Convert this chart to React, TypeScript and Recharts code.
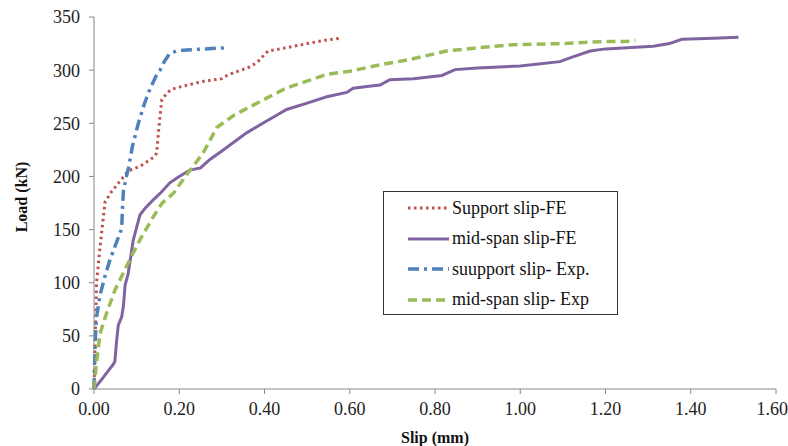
import React from 'react';
import { LineChart, Line, XAxis, YAxis, Legend } from 'recharts';

const supportFeSlip = [0, 0.003, 0.006, 0.012, 0.02, 0.026, 0.04, 0.06, 0.08, 0.11, 0.14, 0.147, 0.152, 0.159, 0.17, 0.182, 0.2, 0.25, 0.3, 0.307, 0.33, 0.36, 0.382, 0.408, 0.45, 0.5, 0.54, 0.577];
const supportFeLoad = [0, 50, 100, 125, 155, 176, 185, 195, 205, 210, 218, 222, 245, 272, 278, 282, 284, 289, 292, 294, 298, 302, 307, 318, 321, 325, 328, 330];

const midFeSlip = [0, 0.02, 0.035, 0.045, 0.049, 0.053, 0.057, 0.065, 0.069, 0.073, 0.08, 0.092, 0.1, 0.108, 0.12, 0.139, 0.155, 0.178, 0.2, 0.225, 0.25, 0.272, 0.3, 0.358, 0.4, 0.452, 0.5, 0.546, 0.593, 0.608, 0.65, 0.671, 0.694, 0.75, 0.816, 0.847, 0.9, 1.0, 1.093, 1.12, 1.164, 1.2, 1.312, 1.35, 1.379, 1.453, 1.512];
const midFeLoad = [0, 10, 18, 23, 26, 45, 60, 68, 78, 98, 108, 140, 152, 164, 170, 178, 184, 194, 200, 206, 208, 216, 224, 241, 251, 263, 269, 275, 279, 283, 285, 286, 291, 292, 295, 300.5, 302, 304, 308, 312, 318, 320, 322.5, 325, 329, 330, 331];

const supportExpSlip = [0, 0.002, 0.005, 0.014, 0.025, 0.037, 0.05, 0.065, 0.067, 0.069, 0.075, 0.081, 0.09, 0.104, 0.118, 0.131, 0.145, 0.155, 0.165, 0.178, 0.195, 0.217, 0.26, 0.311];
const supportExpLoad = [0, 35, 65, 88, 105, 121, 135, 151, 172, 186, 198, 208, 228, 250, 268, 282, 294, 300, 308, 316, 318, 319, 320, 321];

const midExpSlip = [0, 0.005, 0.014, 0.03, 0.049, 0.07, 0.088, 0.11, 0.139, 0.16, 0.186, 0.22, 0.256, 0.288, 0.33, 0.397, 0.45, 0.546, 0.6, 0.671, 0.741, 0.827, 0.9, 0.983, 1.1, 1.2, 1.25, 1.27];
const midExpLoad = [0, 22, 52, 72, 93, 110, 125, 142, 162, 175, 184, 203, 222, 246, 258, 272, 283, 296, 299, 305, 310, 318, 321, 324, 325, 327, 327, 328];

const xTicks = [0, 0.2, 0.4, 0.6, 0.8, 1.0, 1.2, 1.4, 1.6];
const yTicks = [0, 50, 100, 150, 200, 250, 300, 350];

const toPoints = (slip: number[], load: number[]) => slip.map((x, i) => ({ x, y: load[i] }));

const series = [
  { name: 'Support slip-FE', data: toPoints(supportFeSlip, supportFeLoad), color: '#C0504D', dash: '2.5 3.5', width: 3 },
  { name: 'mid-span slip-FE', data: toPoints(midFeSlip, midFeLoad), color: '#8064A2', dash: undefined, width: 3 },
  { name: 'suupport slip- Exp.', data: toPoints(supportExpSlip, supportExpLoad), color: '#4F81BD', dash: '11 5 3 5', width: 3.5 },
  { name: 'mid-span slip- Exp', data: toPoints(midExpSlip, midExpLoad), color: '#9BBB59', dash: '9 5', width: 3.5 },
];

const font = '"Liberation Serif", "DejaVu Serif", serif';

const renderLegend = () => (
  <div
    style={{
      width: 235,
      height: 124,
      border: '1px solid #333',
      background: '#fff',
      boxSizing: 'border-box',
      paddingTop: 1,
      fontFamily: font,
      fontSize: 18,
      color: '#111',
    }}
  >
    {series.map((s) => (
      <div key={s.name} style={{ display: 'flex', alignItems: 'center', height: 30.5 }}>
        <svg width={68} height={10} style={{ flex: 'none' }}>
          <line x1={24} y1={5} x2={65} y2={5} stroke={s.color} strokeWidth={s.width} strokeDasharray={s.dash} />
        </svg>
        <span>{s.name}</span>
      </div>
    ))}
  </div>
);

export default function App() {
  return (
    <div style={{ position: 'absolute', left: 0, top: 0, background: '#fff' }}>
      <LineChart width={788} height={446} margin={{ top: 17, right: 12, left: 34, bottom: 0 }}>
        <XAxis
          dataKey="x"
          type="number"
          domain={[0, 1.6]}
          ticks={xTicks}
          tickFormatter={(v: number) => v.toFixed(2)}
          stroke="#888"
          tickSize={5}
          tickMargin={8}
          tick={{ fill: '#222', fontSize: 18, fontFamily: font }}
          height={57}
          label={{ value: 'Slip (mm)', position: 'insideBottom', offset: 3, fill: '#111', fontSize: 16, fontWeight: 'bold', fontFamily: font }}
        />
        <YAxis
          type="number"
          domain={[0, 350]}
          ticks={yTicks}
          stroke="#888"
          tickSize={5}
          tickMargin={9}
          width={60}
          tick={{ fill: '#222', fontSize: 18, fontFamily: font }}
          label={{ value: 'Load (kN)', angle: -90, position: 'insideLeft', offset: -13, dy: -6, fill: '#111', fontSize: 16, fontWeight: 'bold', fontFamily: font, style: { textAnchor: 'middle' } }}
        />
        <Legend
          layout="vertical"
          verticalAlign="middle"
          align="center"
          wrapperStyle={{ left: 383, top: 191, width: 235 }}
          content={renderLegend}
        />
        {series.map((s) => (
          <Line
            key={s.name}
            data={s.data}
            dataKey="y"
            name={s.name}
            type="linear"
            stroke={s.color}
            strokeWidth={s.width}
            strokeDasharray={s.dash}
            dot={false}
            activeDot={false}
            isAnimationActive={false}
          />
        ))}
      </LineChart>
    </div>
  );
}
